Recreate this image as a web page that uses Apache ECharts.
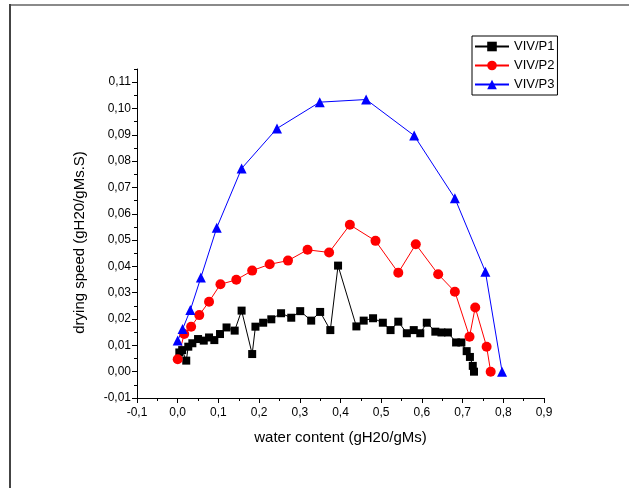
<!DOCTYPE html>
<html>
<head>
<meta charset="utf-8">
<title>drying speed</title>
<script src="https://cdn.jsdelivr.net/npm/echarts@6/dist/echarts.min.js"></script>
<style>
  html, body { margin: 0; padding: 0; background: #fff; }
  #chart { width: 629px; height: 488px; }
</style>
</head>
<body>
<div id="chart"></div>
<script>
// water content (x) / drying speed (y)
var p1X = [0.004, 0.011, 0.021, 0.026, 0.036, 0.050, 0.064, 0.077, 0.090, 0.104, 0.120, 0.140,
           0.157, 0.183, 0.191, 0.210, 0.230, 0.254, 0.279, 0.301, 0.328, 0.350, 0.375, 0.394,
           0.439, 0.457, 0.480, 0.504, 0.523, 0.542, 0.563, 0.580, 0.596, 0.612, 0.633, 0.648,
           0.664, 0.684, 0.697, 0.710, 0.718, 0.725, 0.728];
var p1Y = [0.0073, 0.0082, 0.0042, 0.0095, 0.0108, 0.0124, 0.0118, 0.0130, 0.0120, 0.0143, 0.0168, 0.0156,
           0.0232, 0.0067, 0.0171, 0.0186, 0.0199, 0.0222, 0.0205, 0.0230, 0.0194, 0.0227, 0.0158, 0.0403,
           0.0172, 0.0194, 0.0203, 0.0186, 0.0158, 0.0190, 0.0146, 0.0158, 0.0146, 0.0186, 0.0152, 0.0149,
           0.0149, 0.0111, 0.0111, 0.0078, 0.0056, 0.0022, 0.0000];

var p2X = [0.000, 0.016, 0.033, 0.053, 0.077, 0.105, 0.144, 0.183, 0.226, 0.271, 0.319, 0.372,
           0.423, 0.486, 0.542, 0.585, 0.640, 0.681, 0.717, 0.731, 0.759, 0.769];
var p2Y = [0.0047, 0.0143, 0.0171, 0.0215, 0.0266, 0.0332, 0.0349, 0.0384, 0.0408, 0.0422, 0.0463, 0.0453,
           0.0558, 0.0497, 0.0376, 0.0484, 0.0370, 0.0304, 0.0133, 0.0244, 0.0095, 0.0000];

var p3X = [0.000, 0.012, 0.031, 0.057, 0.096, 0.157, 0.244, 0.349, 0.463, 0.581, 0.681, 0.756, 0.797];
var p3Y = [0.0118, 0.0162, 0.0234, 0.0358, 0.0547, 0.0772, 0.0924, 0.1024, 0.1034, 0.0897, 0.0659, 0.0380, 0.0000];

var yMajor = [-0.01, 0, 0.01, 0.02, 0.03, 0.04, 0.05, 0.06, 0.07, 0.08, 0.09, 0.10, 0.11];

function pairs(xs, ys) {
    return xs.map(function (x, i) { return [x, ys[i]]; });
}
function comma(v, d) {
    return v.toFixed(d).replace('.', ',');
}

var chart = echarts.init(document.getElementById('chart'));
var font = 'Liberation Sans, Arial, sans-serif';

var option = {
    animation: false,
    backgroundColor: '#fff',
    textStyle: { fontFamily: font },
    graphic: [
        { type: 'line', shape: { x1: 10, y1: 5, x2: 629, y2: 5 }, style: { stroke: '#8a8a8a', lineWidth: 2 } },
        { type: 'line', shape: { x1: 10, y1: 4, x2: 10, y2: 488 }, style: { stroke: '#444', lineWidth: 2 } }
    ],
    grid: { left: 137, right: 85, top: 69, bottom: 90 },
    legend: {
        orient: 'vertical',
        left: 472,
        top: 36,
        padding: [4, 3, 4, 2],
        itemWidth: 34,
        itemHeight: 12,
        itemGap: 6,
        borderColor: '#000',
        borderWidth: 1,
        borderRadius: 0,
        textStyle: { fontSize: 13, color: '#000', fontFamily: font },
        data: ['VIV/P1', 'VIV/P2', 'VIV/P3']
    },
    xAxis: {
        type: 'value',
        min: -0.1,
        max: 0.9,
        interval: 0.1,
        name: 'water content (gH20/gMs)',
        nameLocation: 'middle',
        nameGap: 32,
        nameTextStyle: { fontSize: 15, color: '#000', fontFamily: font },
        axisLine: { onZero: false, lineStyle: { color: '#000', width: 1 } },
        axisTick: { length: 5, lineStyle: { color: '#000' } },
        minorTick: { show: true, splitNumber: 2, length: 3, lineStyle: { color: '#000' } },
        axisLabel: {
            fontSize: 12, color: '#000', margin: 9, fontFamily: font,
            formatter: function (v) { return comma(v, 1); }
        },
        splitLine: { show: false }
    },
    yAxis: [{
        type: 'value',
        position: 'left',
        min: -0.01,
        max: 0.115,
        interval: 0.01,
        name: 'drying speed (gH20/gMs.S)',
        nameLocation: 'middle',
        nameGap: 50,
        nameTextStyle: { fontSize: 15, color: '#000', fontFamily: font, padding: [0, 18, 0, 0] },
        axisLine: { onZero: false, lineStyle: { color: '#000', width: 1 } },
        axisTick: { length: 5, customValues: yMajor, lineStyle: { color: '#000' } },
        axisLabel: {
            fontSize: 12, color: '#000', margin: 6, fontFamily: font,
            customValues: yMajor,
            formatter: function (v) { return comma(v, 2); }
        },
        splitLine: { show: false }
    }, {
        type: 'value',
        position: 'left',
        min: -0.01,
        max: 0.115,
        interval: 0.005,
        axisLine: { show: false, onZero: false },
        axisTick: { length: 3, lineStyle: { color: '#000' } },
        axisLabel: { show: false },
        splitLine: { show: false }
    }],
    series: [{
        name: 'VIV/P1',
        type: 'line',
        data: pairs(p1X, p1Y),
        symbol: 'rect',
        symbolSize: 8,
        showAllSymbol: true,
        itemStyle: { color: '#000' },
        lineStyle: { color: '#000', width: 1 }
    }, {
        name: 'VIV/P2',
        type: 'line',
        data: pairs(p2X, p2Y),
        symbol: 'circle',
        symbolSize: 10,
        showAllSymbol: true,
        itemStyle: { color: '#ff0000' },
        lineStyle: { color: '#ff0000', width: 1 }
    }, {
        name: 'VIV/P3',
        type: 'line',
        data: pairs(p3X, p3Y),
        symbol: 'triangle',
        symbolSize: 10,
        showAllSymbol: true,
        itemStyle: { color: '#0000ff' },
        lineStyle: { color: '#0000ff', width: 1 }
    }]
};

chart.setOption(option);
</script>
</body>
</html>
